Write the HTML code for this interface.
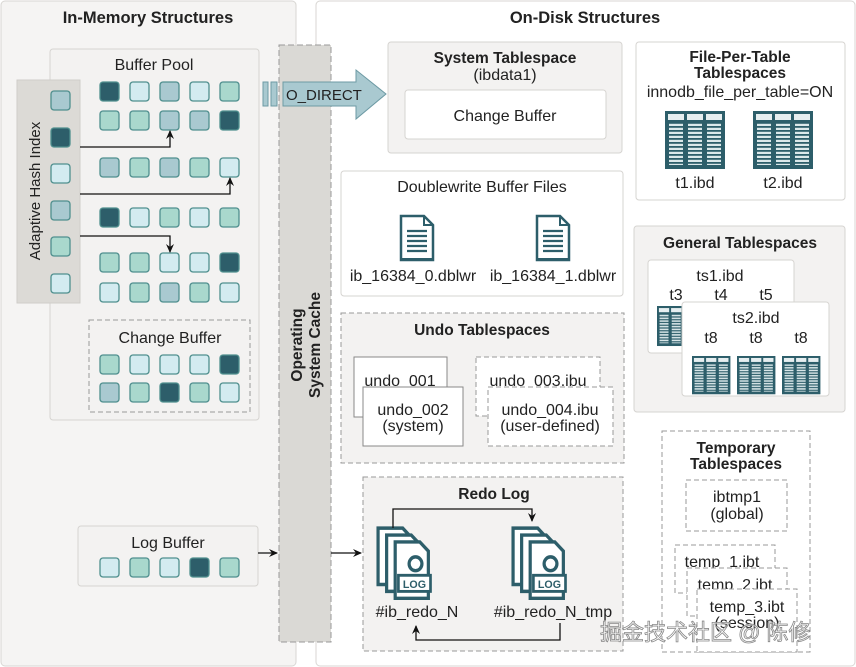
<!DOCTYPE html>
<html><head><meta charset="utf-8"><style>
html,body{margin:0;padding:0;background:#fff}
svg{display:block}
text{font-family:"Liberation Sans","Noto Sans CJK SC",sans-serif;fill:#222;font-size:16px}
.b{font-weight:bold;font-size:15.5px}
</style></head><body>
<svg width="856" height="667" viewBox="0 0 856 667" xmlns="http://www.w3.org/2000/svg">
<defs>
<marker id="ah" markerWidth="10" markerHeight="10" refX="8" refY="5" orient="auto" markerUnits="userSpaceOnUse"><path d="M0,1 L9,5 L0,9 L3,5 Z" fill="#111"/></marker>
<pattern id="stripe" width="6" height="4" patternUnits="userSpaceOnUse"><rect width="6" height="4" fill="#2d5e6a"/><rect y="0.8" width="6" height="2.2" fill="#dbe8ea"/></pattern>
<g id="tbl">
<rect x="0" y="0" width="60" height="58" fill="#2d5e6a"/>
<rect x="3" y="3" width="16" height="6" fill="#e6eef0"/><rect x="22" y="3" width="16" height="6" fill="#e6eef0"/><rect x="41" y="3" width="16" height="6" fill="#e6eef0"/>
<rect x="4" y="12" width="14" height="42" fill="url(#stripe)"/><rect x="23" y="12" width="14" height="42" fill="url(#stripe)"/><rect x="42" y="12" width="14" height="42" fill="url(#stripe)"/>
</g>
<g id="doc">
<path d="M1,1 H24 L33,10 V45 H1 Z" fill="#fff" stroke="#2d5e6a" stroke-width="2.5"/>
<path d="M24,1 V10 H33" fill="none" stroke="#2d5e6a" stroke-width="2"/>
<path d="M7,16 H27 M7,21 H27 M7,26 H27 M7,31 H27 M7,36 H27" stroke="#2d5e6a" stroke-width="2.2"/>
<rect x="1" y="43" width="32" height="3" fill="#2d5e6a"/>
</g>
<g id="logf">
<path d="M1,1 H24 L32,9 V50 H1 Z" fill="#fff" stroke="#2d5e6a" stroke-width="3"/>
</g>
<g id="logic">
<use href="#logf" x="0" y="0"/><use href="#logf" x="8" y="6"/><use href="#logf" x="16" y="12"/>
<circle cx="36" cy="32" r="6" fill="none" stroke="#2d5e6a" stroke-width="3"/>
<rect x="20" y="42" width="30" height="14" fill="#fff" stroke="#2d5e6a" stroke-width="2.5"/>
<text x="35" y="53" text-anchor="middle" style="fill:#2d5e6a;font-size:10px;font-weight:bold">LOG</text>
</g>
</defs>

<rect x="1" y="1" width="295" height="665" rx="4" fill="#f5f4f3" stroke="#d8d6d3"/>
<text x="148" y="23" text-anchor="middle" style="font-weight:bold;font-size:16.5px">In-Memory Structures</text>
<rect x="316" y="1" width="539" height="665" rx="4" fill="#fff" stroke="#d8d6d3"/>
<text x="585" y="23" text-anchor="middle" style="font-weight:bold;font-size:16.5px">On-Disk Structures</text>

<rect x="50" y="49" width="209" height="371" rx="3" fill="#f3f2f1" stroke="#d6d4d1"/>
<text x="154" y="70" text-anchor="middle">Buffer Pool</text>
<rect x="17" y="80" width="63" height="223" fill="#dcdad6" stroke="#cfcdc9"/>
<text transform="translate(40,191) rotate(-90)" text-anchor="middle" style="font-size:15px">Adaptive Hash Index</text>

<g stroke-width="1.3" stroke="#4f8f8e">
<rect x="51" y="91" width="19" height="19" rx="3" fill="#a9c9d0"/>
<rect x="51" y="128" width="19" height="19" rx="3" fill="#2d5e6a"/>
<rect x="51" y="164" width="19" height="19" rx="3" fill="#d3ebf0"/>
<rect x="51" y="201" width="19" height="19" rx="3" fill="#a9c9d0"/>
<rect x="51" y="237" width="19" height="19" rx="3" fill="#a9d8cd"/>
<rect x="51" y="274" width="19" height="19" rx="3" fill="#d3ebf0"/>
<rect x="100" y="82" width="19" height="19" rx="3" fill="#2d5e6a"/><rect x="130" y="82" width="19" height="19" rx="3" fill="#d3ebf0"/><rect x="160" y="82" width="19" height="19" rx="3" fill="#a9c9d0"/><rect x="190" y="82" width="19" height="19" rx="3" fill="#d3ebf0"/><rect x="220" y="82" width="19" height="19" rx="3" fill="#a9d8cd"/>
<rect x="100" y="111" width="19" height="19" rx="3" fill="#a9d8cd"/><rect x="130" y="111" width="19" height="19" rx="3" fill="#a9d8cd"/><rect x="160" y="111" width="19" height="19" rx="3" fill="#a9c9d0"/><rect x="190" y="111" width="19" height="19" rx="3" fill="#a9c9d0"/><rect x="220" y="111" width="19" height="19" rx="3" fill="#2d5e6a"/>
<rect x="100" y="158" width="19" height="19" rx="3" fill="#a9c9d0"/><rect x="130" y="158" width="19" height="19" rx="3" fill="#a9d8cd"/><rect x="160" y="158" width="19" height="19" rx="3" fill="#a9c9d0"/><rect x="190" y="158" width="19" height="19" rx="3" fill="#a9d8cd"/><rect x="220" y="158" width="19" height="19" rx="3" fill="#d3ebf0"/>
<rect x="100" y="208" width="19" height="19" rx="3" fill="#2d5e6a"/><rect x="130" y="208" width="19" height="19" rx="3" fill="#d3ebf0"/><rect x="160" y="208" width="19" height="19" rx="3" fill="#a9d8cd"/><rect x="190" y="208" width="19" height="19" rx="3" fill="#d3ebf0"/><rect x="220" y="208" width="19" height="19" rx="3" fill="#a9d8cd"/>
<rect x="100" y="253" width="19" height="19" rx="3" fill="#a9d8cd"/><rect x="130" y="253" width="19" height="19" rx="3" fill="#a9d8cd"/><rect x="160" y="253" width="19" height="19" rx="3" fill="#d3ebf0"/><rect x="190" y="253" width="19" height="19" rx="3" fill="#d3ebf0"/><rect x="220" y="253" width="19" height="19" rx="3" fill="#2d5e6a"/>
<rect x="100" y="283" width="19" height="19" rx="3" fill="#d3ebf0"/><rect x="130" y="283" width="19" height="19" rx="3" fill="#a9d8cd"/><rect x="160" y="283" width="19" height="19" rx="3" fill="#a9c9d0"/><rect x="190" y="283" width="19" height="19" rx="3" fill="#a9d8cd"/><rect x="220" y="283" width="19" height="19" rx="3" fill="#d3ebf0"/>
</g>
<g fill="none" stroke="#111" stroke-width="1.3">
<path d="M80,147 H170 V131" marker-end="url(#ah)"/>
<path d="M80,194 H230 V178" marker-end="url(#ah)"/>
<path d="M80,236 H170 V252" marker-end="url(#ah)"/>
</g>

<rect x="89" y="320" width="161" height="92" fill="#f3f2f1" stroke="#999" stroke-dasharray="5,3"/>
<text x="170" y="343" text-anchor="middle">Change Buffer</text>
<g stroke-width="1.3" stroke="#4f8f8e">
<rect x="100" y="355" width="19" height="19" rx="3" fill="#a9d8cd"/><rect x="130" y="355" width="19" height="19" rx="3" fill="#d3ebf0"/><rect x="160" y="355" width="19" height="19" rx="3" fill="#d3ebf0"/><rect x="190" y="355" width="19" height="19" rx="3" fill="#d3ebf0"/><rect x="220" y="355" width="19" height="19" rx="3" fill="#2d5e6a"/>
<rect x="100" y="383" width="19" height="19" rx="3" fill="#a9c9d0"/><rect x="130" y="383" width="19" height="19" rx="3" fill="#a9d8cd"/><rect x="160" y="383" width="19" height="19" rx="3" fill="#2d5e6a"/><rect x="190" y="383" width="19" height="19" rx="3" fill="#a9d8cd"/><rect x="220" y="383" width="19" height="19" rx="3" fill="#d3ebf0"/>
</g>

<rect x="78" y="526" width="180" height="60" rx="3" fill="#f3f2f1" stroke="#d6d4d1"/>
<text x="168" y="548" text-anchor="middle">Log Buffer</text>
<g stroke-width="1.3" stroke="#4f8f8e">
<rect x="100" y="558" width="19" height="19" rx="3" fill="#d3ebf0"/><rect x="130" y="558" width="19" height="19" rx="3" fill="#a9d8cd"/><rect x="160" y="558" width="19" height="19" rx="3" fill="#d3ebf0"/><rect x="190" y="558" width="19" height="19" rx="3" fill="#2d5e6a"/><rect x="220" y="558" width="19" height="19" rx="3" fill="#a9d8cd"/>
</g>

<rect x="279" y="45" width="52" height="597" fill="#dad9d5" stroke="#999" stroke-dasharray="6,3"/>
<text transform="translate(302,345) rotate(-90)" text-anchor="middle" class="b">Operating</text>
<text transform="translate(320,345) rotate(-90)" text-anchor="middle" class="b">System Cache</text>

<g fill="none" stroke="#111" stroke-width="1.3">
<path d="M258,553 H277" marker-end="url(#ah)"/>
<path d="M331,553 H361" marker-end="url(#ah)"/>
</g>

<rect x="263" y="82" width="5" height="24" fill="#a9c9d0" stroke="#6d9aa4"/>
<rect x="271" y="82" width="6" height="24" fill="#a9c9d0" stroke="#6d9aa4"/>
<path d="M283,82 H356 V70 L386,94 L356,119 V106 H283 Z" fill="#a9c9d0" stroke="#6d9aa4"/>
<text x="286" y="100" style="font-size:15px">O_DIRECT</text>

<rect x="388" y="42" width="234" height="111" rx="3" fill="#f3f2f1" stroke="#d6d4d1"/>
<text x="505" y="63" text-anchor="middle" class="b">System Tablespace</text>
<text x="505" y="80" text-anchor="middle">(ibdata1)</text>
<rect x="405" y="90" width="201" height="49" rx="3" fill="#fff" stroke="#d6d4d1"/>
<text x="505" y="121" text-anchor="middle">Change Buffer</text>

<rect x="636" y="42" width="209" height="158" rx="3" fill="#fff" stroke="#d6d4d1"/>
<text x="740" y="62" text-anchor="middle" class="b">File-Per-Table</text>
<text x="740" y="78" text-anchor="middle" class="b">Tablespaces</text>
<text x="740" y="97" text-anchor="middle">innodb_file_per_table=ON</text>
<use href="#tbl" x="665" y="111"/><use href="#tbl" x="753" y="111"/>
<text x="695" y="188" text-anchor="middle">t1.ibd</text>
<text x="783" y="188" text-anchor="middle">t2.ibd</text>

<rect x="341" y="171" width="282" height="125" rx="3" fill="#fff" stroke="#d6d4d1"/>
<text x="482" y="192" text-anchor="middle">Doublewrite Buffer Files</text>
<use href="#doc" x="400" y="215"/><use href="#doc" x="536" y="215"/>
<text x="413" y="281" text-anchor="middle">ib_16384_0.dblwr</text>
<text x="553" y="281" text-anchor="middle">ib_16384_1.dblwr</text>

<rect x="634" y="226" width="211" height="186" rx="3" fill="#f3f2f1" stroke="#d6d4d1"/>
<text x="740" y="248" text-anchor="middle" class="b">General Tablespaces</text>
<rect x="648" y="260" width="146" height="93" rx="3" fill="#fff" stroke="#d6d4d1"/>
<text x="720" y="281" text-anchor="middle">ts1.ibd</text>
<text x="676" y="300" text-anchor="middle">t3</text>
<text x="721" y="300" text-anchor="middle">t4</text>
<text x="766" y="300" text-anchor="middle">t5</text>
<use href="#tbl" transform="translate(657,306) scale(0.64,0.69)"/>
<rect x="682" y="302" width="147" height="94" rx="3" fill="#fff" stroke="#d6d4d1"/>
<text x="756" y="323" text-anchor="middle">ts2.ibd</text>
<text x="711" y="343" text-anchor="middle">t8</text>
<text x="756" y="343" text-anchor="middle">t8</text>
<text x="801" y="343" text-anchor="middle">t8</text>
<use href="#tbl" transform="translate(692,356) scale(0.64,0.66)"/>
<use href="#tbl" transform="translate(737,356) scale(0.64,0.66)"/>
<use href="#tbl" transform="translate(782,356) scale(0.64,0.66)"/>

<rect x="341" y="313" width="283" height="150" fill="#f3f2f1" stroke="#999" stroke-dasharray="5,3"/>
<text x="482" y="335" text-anchor="middle" class="b">Undo Tablespaces</text>
<rect x="354" y="357" width="93" height="60" fill="#fff" stroke="#888"/>
<text x="400" y="386" text-anchor="middle">undo_001</text>
<rect x="363" y="387" width="100" height="59" fill="#fff" stroke="#888"/>
<text x="413" y="415" text-anchor="middle">undo_002</text>
<text x="413" y="431" text-anchor="middle">(system)</text>
<rect x="476" y="357" width="124" height="59" fill="#fff" stroke="#999" stroke-dasharray="5,3"/>
<text x="538" y="386" text-anchor="middle">undo_003.ibu</text>
<rect x="488" y="387" width="125" height="59" fill="#fff" stroke="#999" stroke-dasharray="5,3"/>
<text x="550" y="415" text-anchor="middle">undo_004.ibu</text>
<text x="550" y="431" text-anchor="middle">(user-defined)</text>

<rect x="363" y="477" width="260" height="174" fill="#f3f2f1" stroke="#999" stroke-dasharray="5,3"/>
<text x="494" y="499" text-anchor="middle" class="b">Redo Log</text>
<use href="#logic" transform="translate(377,527) scale(1.07,1.15)"/>
<use href="#logic" transform="translate(512,527) scale(1.07,1.15)"/>
<text x="417" y="617" text-anchor="middle">#ib_redo_N</text>
<text x="553" y="617" text-anchor="middle">#ib_redo_N_tmp</text>
<g fill="none" stroke="#111" stroke-width="1.3">
<path d="M393,528 V509 H532 V521" marker-end="url(#ah)"/>
<path d="M560,623 V640 H416 V626" marker-end="url(#ah)"/>
</g>

<rect x="662" y="431" width="148" height="221" fill="#fff" stroke="#999" stroke-dasharray="5,3"/>
<text x="736" y="453" text-anchor="middle" class="b">Temporary</text>
<text x="736" y="469" text-anchor="middle" class="b">Tablespaces</text>
<rect x="686" y="480" width="101" height="51" fill="#fff" stroke="#999" stroke-dasharray="5,3"/>
<text x="737" y="502" text-anchor="middle">ibtmp1</text>
<text x="737" y="519" text-anchor="middle">(global)</text>
<rect x="675" y="545" width="100" height="48" fill="#fff" stroke="#999" stroke-dasharray="5,3"/>
<text x="722" y="567" text-anchor="middle">temp_1.ibt</text>
<rect x="687" y="568" width="100" height="48" fill="#fff" stroke="#999" stroke-dasharray="5,3"/>
<text x="735" y="590" text-anchor="middle">temp_2.ibt</text>
<rect x="697" y="589" width="100" height="63" fill="#fff" stroke="#999" stroke-dasharray="5,3"/>
<text x="747" y="612" text-anchor="middle">temp_3.ibt</text>
<text x="747" y="628" text-anchor="middle">(session)</text>

<text x="600" y="640" style="font-size:22px;fill:#fff;fill-opacity:0.6;stroke:#888;stroke-width:0.8">掘金技术社区 @ 陈修</text>
</svg>
</body></html>
